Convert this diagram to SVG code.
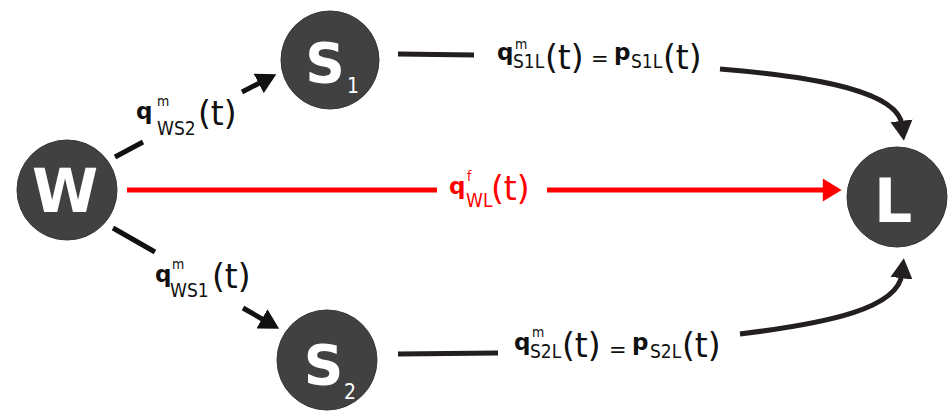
<svg xmlns="http://www.w3.org/2000/svg" width="949" height="414" viewBox="0 0 949 414">
<defs>
<style>
.node{fill:#414141;stroke:#363636;stroke-width:1}
.big{font-family:"DejaVu Sans",Verdana,sans-serif;font-weight:bold;fill:#fff}
.nsub{font-family:"DejaVu Sans Condensed","DejaVu Sans",sans-serif;font-size:21px;fill:#fff}
.lbl{font-family:"DejaVu Sans",sans-serif;fill:#111}
.red{fill:#ff0000}
.b{font-weight:bold;font-size:23px}
.sub{font-family:"DejaVu Sans Condensed","DejaVu Sans",sans-serif;font-size:19px}
.sup{font-family:"DejaVu Sans Condensed","DejaVu Sans",sans-serif;font-size:14px}
.t{font-size:33px}
.eq{font-size:21px}
.edge{fill:none;stroke:#111;stroke-width:5}
.curve{fill:none;stroke:#231f20;stroke-width:5}
.redge{fill:none;stroke:#ff0000;stroke-width:5}
</style>
<marker id="ab" markerUnits="userSpaceOnUse" markerWidth="20" markerHeight="22" refX="4" refY="10" orient="auto" viewBox="0 0 18 20">
<path d="M0,0 L18,10 L0,20 z" fill="#111"/>
</marker>
<marker id="ac" markerUnits="userSpaceOnUse" markerWidth="20" markerHeight="23" refX="4" refY="10.5" orient="auto" viewBox="0 0 19 21">
<path d="M0,0 L19,10.5 L0,21 z" fill="#231f20"/>
</marker>
<marker id="ar" markerUnits="userSpaceOnUse" markerWidth="20" markerHeight="23" refX="4" refY="11" orient="auto" viewBox="0 0 18 22">
<path d="M0,0 L18,11 L0,22 z" fill="#ff0000"/>
</marker>
</defs>
<rect width="949" height="414" fill="#fff"/>
<g id="connectors">
<line class="edge" x1="115" y1="157" x2="143" y2="142"/>
<line class="edge" x1="242" y1="92" x2="262.6" y2="81.4" marker-end="url(#ab)"/>
<line class="edge" x1="113" y1="228" x2="155" y2="252"/>
<line class="edge" x1="243" y1="308" x2="265.8" y2="321.1" marker-end="url(#ab)"/>
<line class="redge" x1="127" y1="190" x2="437" y2="190"/>
<line class="redge" x1="547" y1="190" x2="827" y2="190" marker-end="url(#ar)"/>
<line class="curve" x1="398" y1="54" x2="474" y2="55"/>
<path class="curve" d="M720,69 C820,77 898,92 902,125" marker-end="url(#ac)"/>
<line class="curve" x1="398" y1="354" x2="498" y2="353"/>
<path class="curve" d="M740,334 C830,323 898,308 902,274" marker-end="url(#ac)"/>
<text class="lbl"><tspan class="b" x="136" y="119">q</tspan><tspan class="sup" x="157" y="106">m</tspan><tspan class="sub" x="157" y="135">WS2</tspan><tspan class="t" x="198" y="125">(t)</tspan></text>
<text class="lbl"><tspan class="b" x="155" y="282">q</tspan><tspan class="sup" x="172" y="269">m</tspan><tspan class="sub" x="170" y="297">WS1</tspan><tspan class="t" x="212" y="288">(t)</tspan></text>
<text class="lbl red"><tspan class="b" x="449" y="194">q</tspan><tspan class="sup" x="467" y="181">f</tspan><tspan class="sub" x="466" y="207">WL</tspan><tspan class="t" x="491" y="200">(t)</tspan></text>
<text class="lbl"><tspan class="b" x="497" y="60">q</tspan><tspan class="sup" x="515" y="49">m</tspan><tspan class="sub" x="513" y="68">S1L</tspan><tspan class="t" x="545" y="69">(t)</tspan><tspan class="eq" x="591" y="66">=</tspan><tspan class="b" x="614" y="60">p</tspan><tspan class="sub" x="631" y="68">S1L</tspan><tspan class="t" x="663" y="69">(t)</tspan></text>
<text class="lbl"><tspan class="b" x="514" y="350">q</tspan><tspan class="sup" x="532" y="337">m</tspan><tspan class="sub" x="530" y="358">S2L</tspan><tspan class="t" x="562" y="357">(t)</tspan><tspan class="eq" x="609" y="357">=</tspan><tspan class="b" x="632" y="350">p</tspan><tspan class="sub" x="650" y="358">S2L</tspan><tspan class="t" x="682" y="357">(t)</tspan></text>
</g>
<g id="W">
<circle class="node" cx="67" cy="190" r="50"/>
<text class="big" x="65" y="212" font-size="60" text-anchor="middle">W</text>
</g>
<g id="S1">
<circle class="node" cx="330" cy="60" r="49"/>
<text class="big" x="325" y="82" font-size="55" text-anchor="middle">S</text>
<text class="nsub" x="347" y="93">1</text>
</g>
<g id="S2">
<circle class="node" cx="327" cy="360" r="50"/>
<text class="big" x="323.5" y="384" font-size="55" text-anchor="middle">S</text>
<text class="nsub" x="344" y="399">2</text>
</g>
<g id="L">
<circle class="node" cx="897" cy="197" r="50"/>
<text class="big" x="893" y="222" font-size="60" text-anchor="middle">L</text>
</g>
</svg>
